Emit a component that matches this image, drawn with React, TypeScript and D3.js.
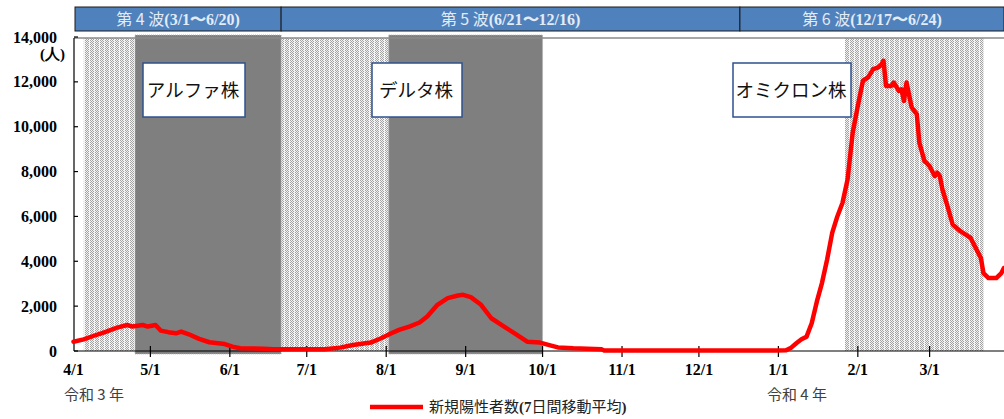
import * as React from "react";
import * as d3 from "d3";

// 7-day moving average of new positive cases
const dates = [
  "2021-04-01", "2021-04-05", "2021-04-09", "2021-04-13", "2021-04-18", "2021-04-22", "2021-04-24",
  "2021-04-28", "2021-04-30", "2021-05-03", "2021-05-05", "2021-05-08", "2021-05-11", "2021-05-13",
  "2021-05-16", "2021-05-20", "2021-05-24", "2021-05-30", "2021-06-02", "2021-06-05", "2021-06-14",
  "2021-06-18", "2021-06-28", "2021-07-08", "2021-07-14", "2021-07-19", "2021-07-26", "2021-07-30",
  "2021-08-03", "2021-08-06", "2021-08-10", "2021-08-14", "2021-08-17", "2021-08-21", "2021-08-25",
  "2021-08-29", "2021-08-31", "2021-09-03", "2021-09-07", "2021-09-11", "2021-09-16", "2021-09-21",
  "2021-09-25", "2021-09-30", "2021-10-04", "2021-10-07", "2021-10-13", "2021-10-24", "2021-10-25",
  "2021-12-31", "2022-01-04", "2022-01-06", "2022-01-08", "2022-01-10", "2022-01-12", "2022-01-14",
  "2022-01-16", "2022-01-18", "2022-01-20", "2022-01-22", "2022-01-24", "2022-01-26", "2022-01-28",
  "2022-01-30", "2022-02-01", "2022-02-03", "2022-02-05", "2022-02-07", "2022-02-09", "2022-02-10",
  "2022-02-11", "2022-02-12", "2022-02-14", "2022-02-15", "2022-02-17", "2022-02-18", "2022-02-19",
  "2022-02-20", "2022-02-22", "2022-02-24", "2022-02-25", "2022-02-27", "2022-03-01", "2022-03-03",
  "2022-03-04", "2022-03-05", "2022-03-06", "2022-03-08", "2022-03-10", "2022-03-13", "2022-03-17",
  "2022-03-19", "2022-03-21", "2022-03-22", "2022-03-24", "2022-03-27", "2022-03-29", "2022-03-30",
];
const cases = [
  415, 520, 680, 835, 1040, 1160, 1090,
  1160, 1090, 1160, 910, 840, 790, 865,
  745, 540, 390, 310, 195, 120, 105,
  80, 75, 80, 150, 270, 375, 570,
  790, 940, 1090, 1270, 1535, 2060, 2360,
  2475, 2505, 2400, 2060, 1460, 1090, 720,
  415, 375, 250, 160, 120, 75, 20,
  20, 30, 150, 345, 520, 640, 1240,
  2200, 3030, 4070, 5265, 6000, 6600, 7650,
  9740, 10930, 12050, 12200, 12570, 12650, 12750,
  12940, 11820, 11820, 11970, 11600, 11670, 11150,
  11970, 10860, 10560, 9290, 8470, 8240, 7800,
  7950, 7800, 7200, 6450, 5640, 5340, 5040,
  4590, 4150, 3475, 3250, 3250, 3475, 3700,
];

const yTicks = [0, 2000, 4000, 6000, 8000, 10000, 12000, 14000];
const monthTicks = [
  "2021-04-01", "2021-05-01", "2021-06-01", "2021-07-01", "2021-08-01", "2021-09-01",
  "2021-10-01", "2021-11-01", "2021-12-01", "2022-01-01", "2022-02-01", "2022-03-01",
];
const monthLabels = ["4/1", "5/1", "6/1", "7/1", "8/1", "9/1", "10/1", "11/1", "12/1", "1/1", "2/1", "3/1"];

// waves shown in the banner
const waveStarts = ["2021-03-01", "2021-06-21", "2021-12-17"];
const waveNames = ["第 4 波", "第 5 波", "第 6 波"];
const waveRanges = ["(3/1〜6/20)", "(6/21〜12/16)", "(12/17〜6/24)"];

// hatched = priority measures, gray = state of emergency
const hatchStarts = ["2021-04-05", "2021-06-21", "2022-01-27"];
const hatchEnds = ["2021-04-25", "2021-08-02", "2022-03-22"];
const grayStarts = ["2021-04-25", "2021-08-02"];
const grayEnds = ["2021-06-21", "2021-10-01"];

const strainLabels = ["アルファ株", "デルタ株", "オミクロン株"];

const SERIF = "'Liberation Serif', 'Times New Roman', serif";
const SANS = "'Noto Sans CJK JP', 'Noto Sans', sans-serif";

function drawChart(svgRef: React.RefObject<SVGSVGElement>) {
  const width = 1004;
  const height = 419;
  const parse = d3.timeParse("%Y-%m-%d");

  const x = d3
    .scaleTime()
    .domain([parse("2021-04-01")!, parse("2022-03-31")!])
    .range([73.5, 1006.5]);
  const y = d3.scaleLinear().domain([0, 14000]).range([351, 37]);
  const xc = (s: string) => Math.max(75, Math.min(width, x(parse(s)!)));

  const svg = d3.select(svgRef.current);
  svg.selectAll("*").remove();
  svg.attr("width", width).attr("height", height);

  // dotted hatch pattern
  const defs = svg.append("defs");
  const pat = defs
    .append("pattern")
    .attr("id", "hatch")
    .attr("patternUnits", "userSpaceOnUse")
    .attr("width", 5)
    .attr("height", 2);
  pat.append("rect").attr("width", 5).attr("height", 2).attr("fill", "#f4f4f4");
  [[0, 0], [1, 1], [2, 0], [3, 1]].forEach(([px, py]) => {
    pat.append("rect").attr("x", px).attr("y", py).attr("width", 1).attr("height", 1).attr("fill", "#a2a2a2");
  });

  // banner
  const banner = svg.append("g");
  waveStarts.forEach((s, i) => {
    const x0 = i === 0 ? 75 : xc(s);
    const x1 = i < waveStarts.length - 1 ? xc(waveStarts[i + 1]) : width;
    banner
      .append("rect")
      .attr("x", x0)
      .attr("y", 7)
      .attr("width", x1 - x0)
      .attr("height", 24)
      .attr("fill", "#4f81bd")
      .attr("stroke", "#1a1a1a")
      .attr("stroke-width", 1);
    const t = banner
      .append("text")
      .attr("x", (x0 + x1) / 2)
      .attr("y", 25)
      .attr("text-anchor", "middle")
      .attr("fill", "#e3ebf5")
      .style("font-size", "16px");
    t.append("tspan").style("font-family", SANS).text(waveNames[i]);
    t.append("tspan").style("font-family", SERIF).style("font-weight", "bold").text(waveRanges[i]);
  });

  // hatched and gray periods
  hatchStarts.forEach((s, i) => {
    const x0 = xc(s);
    const x1 = xc(hatchEnds[i]);
    svg.append("rect").attr("x", x0).attr("y", 38).attr("width", x1 - x0).attr("height", 313).attr("fill", "url(#hatch)");
  });
  grayStarts.forEach((s, i) => {
    const x0 = xc(s);
    const x1 = xc(grayEnds[i]);
    svg
      .append("rect")
      .attr("x", x0)
      .attr("y", 35)
      .attr("width", x1 - x0)
      .attr("height", 319)
      .attr("fill", "#7f7f7f")
      .attr("stroke", "#b5b5b5")
      .attr("stroke-dasharray", "1 1")
      .attr("stroke-width", 1);
  });

  // top border
  svg.append("line").attr("x1", 74).attr("x2", width).attr("y1", 38).attr("y2", 38).attr("stroke", "#8a8a8a").attr("stroke-width", 1.6);

  // y axis
  const ax = svg.append("g").attr("stroke", "#000").attr("stroke-width", 1.2);
  ax.append("line").attr("x1", 74).attr("x2", 74).attr("y1", 38).attr("y2", 351);
  yTicks.forEach((v) => {
    ax.append("line").attr("x1", 74).attr("x2", 78).attr("y1", y(v)).attr("y2", y(v));
    svg
      .append("text")
      .attr("x", 57)
      .attr("y", y(v) + 5.5)
      .attr("text-anchor", "end")
      .style("font-family", SERIF)
      .style("font-weight", "bold")
      .style("font-size", "16px")
      .text(d3.format(",")(v));
  });
  svg
    .append("text")
    .attr("x", 65)
    .attr("y", 59)
    .attr("text-anchor", "end")
    .style("font-family", SERIF)
    .style("font-weight", "bold")
    .style("font-size", "15px")
    .text("(人)");

  // x axis
  ax.append("line").attr("x1", 74).attr("x2", width).attr("y1", 351).attr("y2", 351);
  monthTicks.forEach((s, i) => {
    const px = x(parse(s)!);
    if (i > 0) ax.append("line").attr("x1", px).attr("x2", px).attr("y1", 346).attr("y2", 357);
    svg
      .append("text")
      .attr("x", px)
      .attr("y", 375)
      .attr("text-anchor", "middle")
      .style("font-family", SERIF)
      .style("font-weight", "bold")
      .style("font-size", "16px")
      .text(monthLabels[i]);
  });
  [["令和 3 年", 94], ["令和 4 年", 797]].forEach(([label, px]) => {
    svg
      .append("text")
      .attr("x", px as number)
      .attr("y", 400)
      .attr("text-anchor", "middle")
      .attr("fill", "#404040")
      .style("font-family", SANS)
      .style("font-size", "15px")
      .text(label as string);
  });

  // the line
  const pts = dates.map((d, i) => ({ date: parse(d)!, value: cases[i] }));
  const line = d3
    .line<{ date: Date; value: number }>()
    .x((d) => x(d.date))
    .y((d) => Math.min(y(d.value), 350.5));
  svg
    .append("path")
    .datum(pts)
    .attr("d", line)
    .attr("fill", "none")
    .attr("stroke", "#ff0000")
    .attr("stroke-width", 4.5)
    .attr("stroke-linejoin", "round")
    .attr("stroke-linecap", "round");

  // strain labels
  const boxes = [
    { x0: 143, x1: 245 },
    { x0: 372, x1: 462 },
    { x0: 733, x1: 851 },
  ];
  boxes.forEach((b, i) => {
    svg
      .append("rect")
      .attr("x", b.x0)
      .attr("y", 63)
      .attr("width", b.x1 - b.x0)
      .attr("height", 54)
      .attr("fill", "#fff")
      .attr("stroke", "#2f528f")
      .attr("stroke-width", 1.5);
    svg
      .append("text")
      .attr("x", (b.x0 + b.x1) / 2 - 1)
      .attr("y", 97)
      .attr("text-anchor", "middle")
      .attr("fill", "#111")
      .style("font-family", SANS)
      .style("font-size", "18.5px")
      .text(strainLabels[i]);
  });

  // legend
  svg.append("line").attr("x1", 370).attr("x2", 423).attr("y1", 407).attr("y2", 407).attr("stroke", "#ff0000").attr("stroke-width", 4.5);
  const lt = svg.append("text").attr("x", 429).attr("y", 412).attr("fill", "#222").style("font-size", "15px");
  lt.append("tspan").style("font-family", SANS).text("新規陽性者数");
  lt.append("tspan").style("font-family", SERIF).style("font-weight", "bold").text("(7");
  lt.append("tspan").style("font-family", SANS).text("日間移動平均");
  lt.append("tspan").style("font-family", SERIF).style("font-weight", "bold").text(")");
}

const App: React.FunctionComponent = () => {
  const svg = React.useRef<SVGSVGElement>(null);
  React.useEffect(() => {
    drawChart(svg);
  }, [svg]);

  return (
    <div style={{ position: "absolute", left: 0, top: 0 }}>
      <svg ref={svg} style={{ display: "block", background: "#fff" }} />
    </div>
  );
};

export default App;
